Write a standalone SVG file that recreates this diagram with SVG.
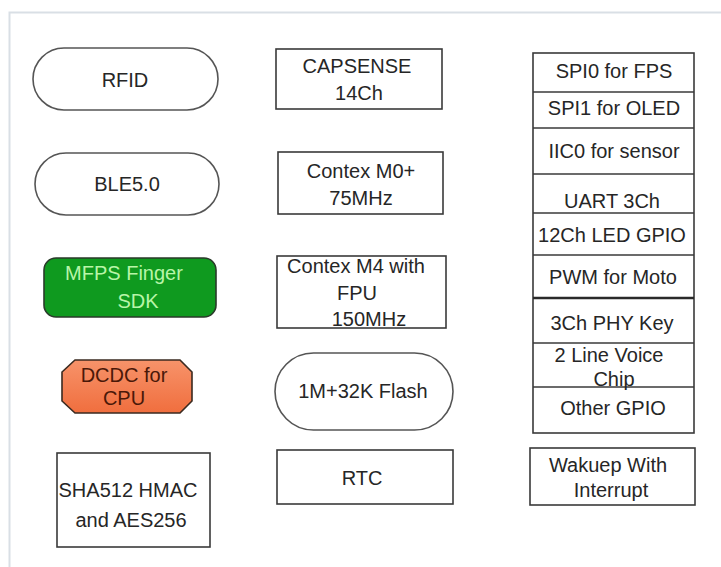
<svg xmlns="http://www.w3.org/2000/svg" width="721" height="567" viewBox="0 0 721 567">
<style>
  text { font-family: "Liberation Sans", Arial, sans-serif; font-size: 20px; fill: #262626; text-anchor: middle; }
  .box { fill: #ffffff; stroke: #3a3a3a; stroke-width: 1.6; }
  .pill { fill: #ffffff; stroke: #555555; stroke-width: 1.6; }
  .sep { stroke: #3a3a3a; stroke-width: 1.6; }
</style>
<defs>
  <linearGradient id="orange" x1="0" y1="0" x2="0" y2="1">
    <stop offset="0" stop-color="#f7936a"/>
    <stop offset="1" stop-color="#f06e3e"/>
  </linearGradient>
</defs>
<rect width="721" height="567" fill="#ffffff"/>
<path d="M9.5 567 V12.5 H721" fill="none" stroke="#d9dfe5" stroke-width="2"/>

<g id="rfid">
  <rect class="pill" x="33" y="48" width="185" height="62" rx="31"/>
  <text x="125" y="87">RFID</text>
</g>
<g id="ble">
  <rect class="pill" x="35" y="153" width="184" height="62" rx="31"/>
  <text x="127" y="191">BLE5.0</text>
</g>
<g id="mfps">
  <rect x="44" y="258" width="172" height="59" rx="12" fill="#0f9a1f" stroke="#2a3a2a" stroke-width="1.6"/>
  <text x="124" y="280" style="fill:#b8f5a8">MFPS Finger</text>
  <text x="138" y="308" style="fill:#b8f5a8">SDK</text>
</g>
<g id="dcdc">
  <polygon points="75,360 180,360 192,372 192,401 180,413 75,413 62,401 62,372" fill="url(#orange)" stroke="#3a2a20" stroke-width="1.6"/>
  <text x="124" y="382" style="fill:#4a1808">DCDC for</text>
  <text x="124" y="405" style="fill:#4a1808">CPU</text>
</g>
<g id="sha">
  <rect class="box" x="57" y="453" width="153" height="94"/>
  <text x="128" y="497">SHA512 HMAC</text>
  <text x="131" y="527">and AES256</text>
</g>

<g id="capsense">
  <rect class="box" x="276" y="49" width="166" height="60"/>
  <text x="357" y="73">CAPSENSE</text>
  <text x="359" y="100">14Ch</text>
</g>
<g id="m0">
  <rect class="box" x="278" y="152" width="165" height="62"/>
  <text x="361" y="178">Contex M0+</text>
  <text x="361" y="205">75MHz</text>
</g>
<g id="m4">
  <rect class="box" x="277" y="256" width="169" height="72"/>
  <text x="356" y="273">Contex M4 with</text>
  <text x="357" y="300">FPU</text>
  <text x="369" y="326">150MHz</text>
</g>
<g id="flash">
  <rect class="pill" x="275" y="353" width="178" height="77" rx="38.5"/>
  <text x="363" y="398">1M+32K Flash</text>
</g>
<g id="rtc">
  <rect class="box" x="277" y="450" width="176" height="54"/>
  <text x="362" y="485">RTC</text>
</g>

<g id="peripherals">
  <rect class="box" x="533" y="53" width="161" height="380"/>
  <line class="sep" x1="533" y1="92" x2="694" y2="92"/>
  <line class="sep" x1="533" y1="128" x2="694" y2="128"/>
  <line class="sep" x1="533" y1="174" x2="694" y2="174"/>
  <line class="sep" x1="533" y1="213" x2="694" y2="213"/>
  <line class="sep" x1="533" y1="255" x2="694" y2="255"/>
  <line x1="533" y1="298" x2="694" y2="298" stroke="#2a2a2a" stroke-width="2.6"/>
  <line class="sep" x1="533" y1="343" x2="694" y2="343"/>
  <line class="sep" x1="533" y1="387" x2="694" y2="387"/>
  <text x="614" y="78">SPI0 for FPS</text>
  <text x="614" y="115">SPI1 for OLED</text>
  <text x="614" y="158">IIC0 for sensor</text>
  <text x="612" y="208">UART 3Ch</text>
  <text x="612" y="242">12Ch LED GPIO</text>
  <text x="613" y="284">PWM for Moto</text>
  <text x="612" y="330">3Ch PHY Key</text>
  <text x="609" y="362">2 Line Voice</text>
  <text x="614" y="386">Chip</text>
  <text x="613" y="415">Other GPIO</text>
</g>
<g id="wakeup">
  <rect class="box" x="530" y="448" width="165" height="57"/>
  <text x="608" y="472">Wakuep With</text>
  <text x="611" y="497">Interrupt</text>
</g>
</svg>
